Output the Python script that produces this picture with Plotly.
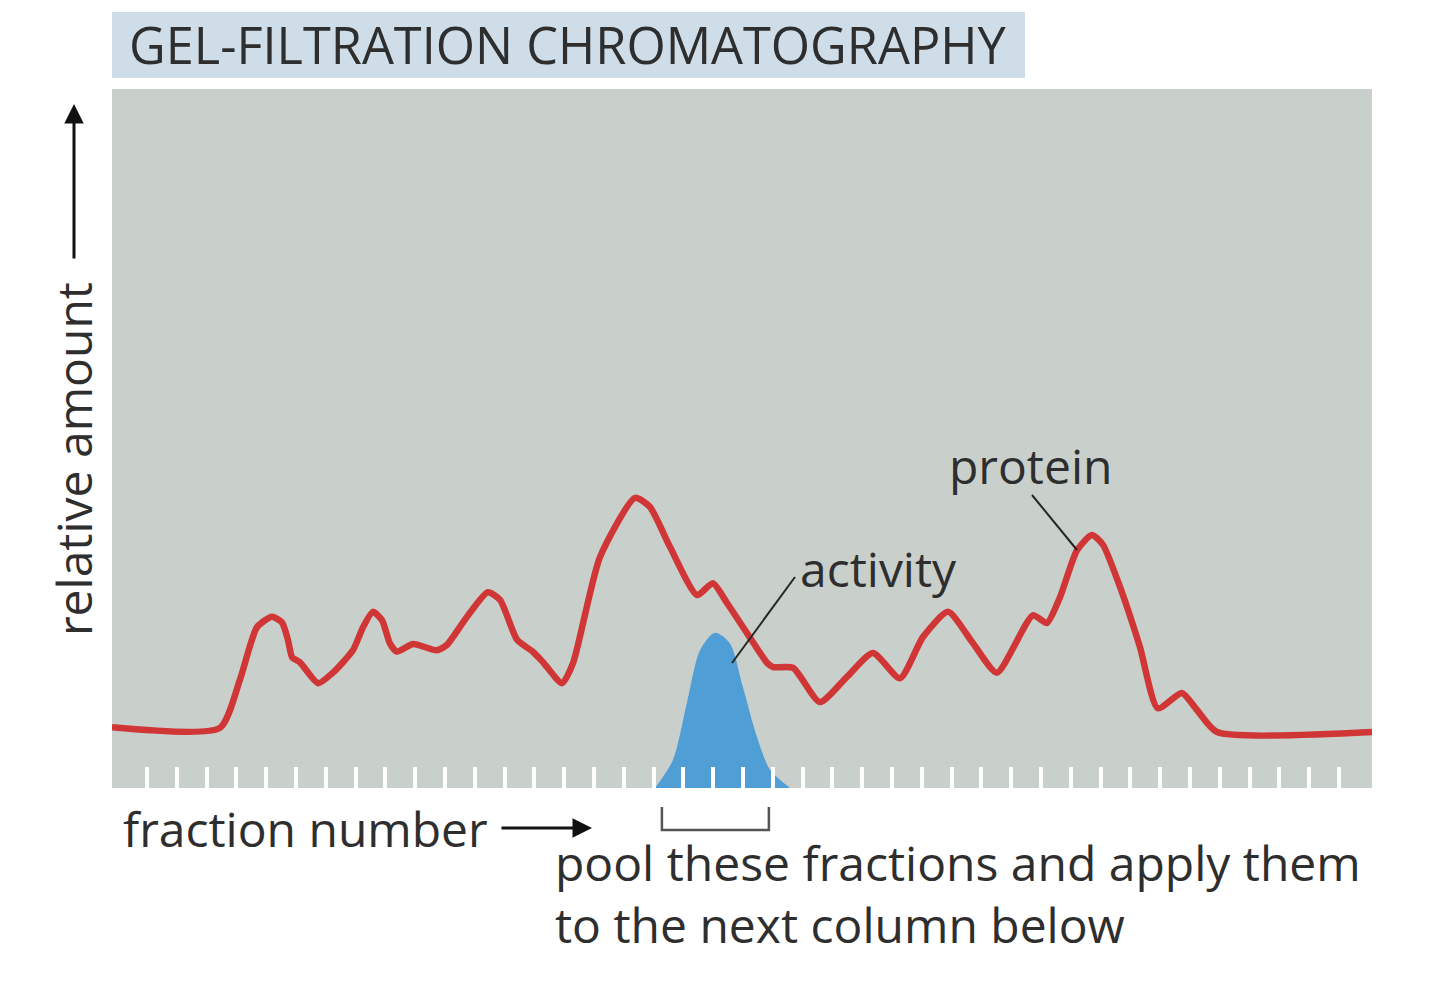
import plotly.graph_objects as go

# ---- data ----
fractions = list(range(1, 42))  # tick positions (fraction numbers)

protein_x = [-0.174, 3.45, 4.12, 4.69, 5.19, 5.53, 5.73, 5.87, 6.13, 6.74, 7.24, 7.91, 8.25, 8.58,
             8.89, 9.15, 9.39, 9.93, 10.73, 11.07, 11.74, 12.44, 12.85, 13.42, 13.95, 14.29, 14.93,
             15.30, 16.20, 17.38, 17.88, 18.55, 19.46, 19.99, 20.46, 21.13, 21.81, 22.01, 22.68,
             23.58, 24.49, 25.36, 26.27, 27.04, 27.88, 28.72, 29.52, 30.73, 31.20, 31.64, 32.21,
             32.71, 33.08, 33.65, 34.32, 34.92, 35.73, 36.23, 36.91, 42.11]
protein_y = [8.7, 8.6, 15.5, 23.0, 24.5, 23.7, 21.2, 18.7, 18.0, 15.0, 16.5, 19.7, 23.0, 25.2,
             24.0, 20.7, 19.5, 20.6, 19.7, 20.5, 24.5, 28.0, 26.9, 21.2, 19.5, 18.0, 15.0,
             17.9, 33.0, 41.5, 40.2, 34.5, 27.6, 29.3, 26.5, 22.2, 17.9, 17.3, 17.2,
             12.3, 15.9, 19.3, 15.7, 21.6, 25.2, 20.7, 16.5, 24.7, 23.6, 27.3, 34.0,
             36.2, 34.8, 28.8, 20.2, 11.4, 13.6, 11.2, 8.0, 8.0]

activity_x = [18.05, 18.65, 19.12, 19.56, 20.06, 20.56, 21.00, 21.47, 21.91, 22.58]
activity_y = [0.0, 4.0, 12.2, 19.7, 22.2, 20.7, 14.4, 7.3, 2.6, 0.0]

pool_range = [18.28, 21.87]

title_text = "GEL-FILTRATION CHROMATOGRAPHY"
y_label = "relative amount"
x_label = "fraction number"
pool_lines = ["pool these fractions and apply them", "to the next column below"]

# ---- style ----
RED = "#d13636"
BLUE = "#509ed6"
BG = "#c9cfcb"
TITLE_BG = "#cedde7"
TXT = "#2e2e2e"
FONT = "Open Sans"
FS = 48

# target screen geometry (the page body has an 8px margin)
OFF = 8
SW, SH = 1440, 996
PL, PT, PR, PB = 112, 89, 1372, 788   # plot area in screen pixels
PW, PH = PR - PL, PB - PT


def px(x):
    return (x - PL) / PW


def py(y):
    return (PB - y) / PH


fig = go.Figure()
fig.add_trace(go.Scatter(x=activity_x, y=activity_y, mode="lines", fill="tozeroy",
                         fillcolor=BLUE, line=dict(color=BLUE, width=0, shape="spline", smoothing=0.8),
                         hoverinfo="skip", showlegend=False))
fig.add_trace(go.Scatter(x=protein_x, y=protein_y, mode="lines",
                         line=dict(color=RED, width=6.5, shape="spline", smoothing=0.6),
                         hoverinfo="skip", showlegend=False))

shapes = [
    dict(type="rect", xref="paper", yref="paper", x0=0, x1=px(1025), y0=py(78), y1=py(12),
         fillcolor=TITLE_BG, line=dict(width=0), layer="below"),
    # leader lines
    dict(type="line", xref="paper", yref="paper", x0=px(795), y0=py(577), x1=px(732), y1=py(663),
         line=dict(color="#262626", width=2)),
    dict(type="line", xref="paper", yref="paper", x0=px(1032), y0=py(495), x1=px(1077), y1=py(550),
         line=dict(color="#262626", width=2)),
    # bracket
    dict(type="path", xref="x", yref="paper",
         path=f"M {pool_range[0]},{py(807)} L {pool_range[0]},{py(830)} L {pool_range[1]},{py(830)} L {pool_range[1]},{py(807)}",
         line=dict(color="#555", width=2.5)),
]

annotations = [
    dict(text=title_text, xref="paper", yref="paper", x=px(127), y=py(45), xanchor="left",
         yanchor="middle", showarrow=False, font=dict(family=FONT, size=50.5, color=TXT)),
    dict(text=y_label, xref="paper", yref="paper", x=px(73), y=py(459), textangle=-90,
         xanchor="center", yanchor="middle", showarrow=False, font=dict(family=FONT, size=FS, color=TXT)),
    dict(text="", xref="paper", yref="paper", x=px(74), y=py(104), ax=0, ay=156, axref="pixel", ayref="pixel",
         showarrow=True, arrowhead=2, arrowsize=1.3, arrowwidth=3, arrowcolor="#111", standoff=0),
    dict(text=x_label, xref="paper", yref="paper", x=px(121), y=py(828), xanchor="left",
         yanchor="middle", showarrow=False, font=dict(family=FONT, size=FS, color=TXT)),
    dict(text="", xref="paper", yref="paper", x=px(592), y=py(828), ax=-92, ay=0,
         showarrow=True, arrowhead=2, arrowsize=1.3, arrowwidth=3, arrowcolor="#111", standoff=0),
    dict(text="<br>".join(pool_lines), xref="paper", yref="paper", x=px(553), y=py(893), xanchor="left",
         yanchor="middle", align="left", showarrow=False, font=dict(family=FONT, size=FS, color=TXT)),
    dict(text="activity", xref="paper", yref="paper", x=px(798), y=py(568), xanchor="left",
         yanchor="middle", showarrow=False, font=dict(family=FONT, size=FS, color=TXT)),
    dict(text="protein", xref="paper", yref="paper", x=px(947), y=py(465), xanchor="left",
         yanchor="middle", showarrow=False, font=dict(family=FONT, size=FS, color=TXT)),
]

fig.update_layout(
    width=SW - OFF, height=SH - OFF,
    margin=dict(l=PL - OFF, r=SW - PR, t=PT - OFF, b=SH - PB, pad=0),
    paper_bgcolor="white", plot_bgcolor=BG,
    showlegend=False,
    shapes=shapes, annotations=annotations,
    xaxis=dict(range=[-0.174, 42.11], tickvals=fractions, ticks="inside", ticklen=21, tickwidth=4,
               tickcolor="white", showticklabels=False, showgrid=False, zeroline=False,
               showline=False, fixedrange=True),
    yaxis=dict(range=[0, 100], showticklabels=False, ticks="", showgrid=False, zeroline=False,
               showline=False, fixedrange=True),
)

fig.write_html("out.html")
